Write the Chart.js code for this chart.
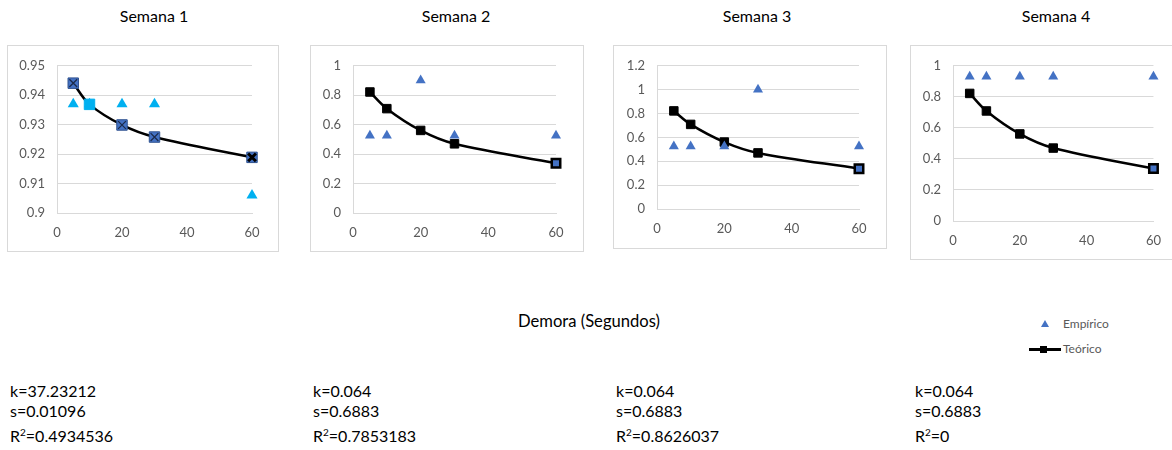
<!DOCTYPE html>
<html>
<head>
<meta charset="utf-8">
<script src="https://cdn.jsdelivr.net/npm/chart.js@4.4.1/dist/chart.umd.min.js"></script>
<style>
  html, body { margin: 0; padding: 0; }
  body {
    width: 1172px; height: 450px; position: relative; overflow: hidden;
    background: #fff; font-family: Lato, "Noto Sans", sans-serif; color: #000;
  }
  .box { position: absolute; border: 1px solid #d9d9d9; background: #fff; }
  .box canvas { display: block; }
  .title { position: absolute; top: 6px; width: 200px; margin-left: -100px; text-align: center; font-size: 16px; }
  .axis-title { position: absolute; left: 589px; top: 311px; width: 300px; margin-left: -150px; text-align: center; font-size: 16.6px; }
  .legend { position: absolute; font-size: 12px; color: #595959; }
  .legend .item { position: absolute; white-space: nowrap; }
  .legend .tri { position: absolute; width: 0; height: 0; border-left: 4.5px solid transparent; border-right: 4.5px solid transparent; border-bottom: 7px solid #4472C4; }
  .legend .ln { position: absolute; height: 2.5px; background: #000; }
  .legend .sq { position: absolute; width: 7px; height: 7px; background: #000; }
  .params { position: absolute; top: 381px; font-size: 16px; line-height: 20px; }
  .params div { position: absolute; left: 0; white-space: nowrap; }
  .params sup { font-size: 10px; vertical-align: 6px; line-height: 0; }
</style>
</head>
<body>

<div id="titles"></div>

<div class="box" style="left:7px;top:45px;"><canvas id="c1" width="270" height="205"></canvas></div>
<div class="box" style="left:310px;top:45px;"><canvas id="c2" width="272" height="205"></canvas></div>
<div class="box" style="left:613px;top:45px;"><canvas id="c3" width="272" height="202"></canvas></div>
<div class="box" style="left:910px;top:45px;"><canvas id="c4" width="262" height="213"></canvas></div>

<div class="axis-title" id="xTitle"></div>

<div class="legend">
  <div class="tri" style="left:1041px;top:320px;"></div>
  <div class="item" style="left:1063px;top:316px;" id="legEmp"></div>
  <div class="ln" style="left:1029px;top:348px;width:32px;"></div>
  <div class="sq" style="left:1040px;top:345.5px;"></div>
  <div class="item" style="left:1063px;top:341px;" id="legTeo"></div>
</div>

<div id="paramBlocks"></div>

<script>
// Delay (seconds) on the x axis, shared by every week
const delays = [5, 10, 20, 30, 60];

// Observed proportions per week
const empirical1 = [0.937, 0.937, 0.937, 0.937, 0.906];
const empirical2 = [0.526, 0.526, 0.902, 0.526, 0.526];
const empirical3 = [0.526, 0.526, 0.526, 1.0, 0.526];
const empirical4 = [0.93, 0.93, 0.93, 0.93, 0.93];

// Model curves per week
const theoretical1 = [0.9441, 0.9369, 0.9299, 0.9258, 0.9189];
const theoretical2 = [0.822, 0.709, 0.561, 0.470, 0.338];
const theoretical3 = [0.822, 0.709, 0.561, 0.470, 0.338];
const theoretical4 = [0.822, 0.709, 0.561, 0.470, 0.338];

// Text
const weekTitles = ['Semana 1', 'Semana 2', 'Semana 3', 'Semana 4'];
const seriesNames = ['Empírico', 'Teórico'];
const xAxisTitle = 'Demora (Segundos)';
const paramK = ['37.23212', '0.064', '0.064', '0.064'];
const paramS = ['0.01096', '0.6883', '0.6883', '0.6883'];
const paramR2 = ['0.4934536', '0.7853183', '0.8626037', '0'];

// Y scale ranges per week
const yMin = [0.9, 0, 0, 0];
const yMax = [0.95, 1, 1.2, 1];
const yStep = [0.01, 0.2, 0.2, 0.2];
const xMin = 0, xMax = 60, xStep = 20;

// ---- page text ----
const titleCenters = [154, 456, 757, 1056];
document.getElementById('titles').innerHTML = weekTitles.map((t, i) =>
  `<div class="title" style="left:${titleCenters[i]}px">${t}</div>`).join('');
document.getElementById('xTitle').textContent = xAxisTitle;
document.getElementById('legEmp').textContent = seriesNames[0];
document.getElementById('legTeo').textContent = seriesNames[1];

const paramLefts = [10, 313, 616, 915];
document.getElementById('paramBlocks').innerHTML = paramK.map((k, i) =>
  `<div class="params" style="left:${paramLefts[i]}px">
     <div style="top:0">k=${k}</div>
     <div style="top:20px">s=${paramS[i]}</div>
     <div style="top:45px">R<sup>2</sup>=${paramR2[i]}</div>
   </div>`).join('');

// ---- charts ----
const toPoints = arr => delays.map((x, i) => ({ x: x, y: arr[i] }));
const BLUE = '#4472C4';
const LIGHT_BLUE = '#00B0F0';
const GRID = '#d9d9d9';
const TICK = '#595959';
// plain number labels without padded zeros (0.9, 1, 1.2)
const plainTick = v => String(parseFloat(Number(v).toFixed(4)));

function makeChart(id, idx, datasets, plot) {
  const ctx = document.getElementById(id);
  return new Chart(ctx, {
    type: 'scatter',
    data: { datasets: datasets },
    options: {
      responsive: false,
      animation: false,
      events: [],
      layout: { padding: { top: plot.top, right: plot.right, left: 0, bottom: 0 } },
      plugins: { legend: { display: false }, tooltip: { enabled: false }, title: { display: false } },
      scales: {
        x: {
          type: 'linear', min: xMin, max: xMax,
          ticks: { stepSize: xStep, color: TICK, padding: 12, font: { family: 'Lato', size: 13 }, callback: plainTick },
          grid: { display: false, drawTicks: false },
          border: { display: true, color: GRID, width: 1 },
          afterFit: s => { s.height = plot.xh; }
        },
        y: {
          type: 'linear', min: yMin[idx], max: yMax[idx],
          ticks: { stepSize: yStep[idx], color: TICK, padding: 12, font: { family: 'Lato', size: 13 }, callback: plainTick },
          grid: { color: GRID, drawTicks: false, lineWidth: 1 },
          border: { display: true, color: GRID, width: 1 },
          afterFit: s => { s.width = plot.yw; }
        }
      }
    }
  });
}

function empiricalSet(arr, color, radius) {
  return {
    label: seriesNames[0], data: toPoints(arr), showLine: false,
    pointStyle: 'triangle', pointRadius: radius, pointBackgroundColor: color,
    pointBorderColor: color, pointBorderWidth: 0, clip: false
  };
}

function theoreticalSet(arr, fills) {
  return {
    label: seriesNames[1], data: toPoints(arr), showLine: true,
    borderColor: '#000', borderWidth: 2.5, tension: 0.35,
    pointStyle: 'rect', pointRadius: 6, pointBackgroundColor: fills,
    pointBorderColor: '#000', pointBorderWidth: [1, 1, 1, 1, 2.5], clip: false
  };
}

// Week 1: blue squares crossed with an X
makeChart('c1', 0, [
  empiricalSet(empirical1, LIGHT_BLUE, 6.4),
  {
    label: seriesNames[1], data: toPoints(theoretical1), showLine: false,
    pointStyle: 'crossRot', pointRadius: 5.5,
    pointBorderColor: ['#1b2a4a', LIGHT_BLUE, '#1b2a4a', '#1b2a4a', '#000'],
    pointBorderWidth: [1.3, 1, 1.3, 1.3, 3], clip: false
  },
  {
    label: seriesNames[1], data: toPoints(theoretical1), showLine: true,
    borderColor: '#000', borderWidth: 2.5, tension: 0.35,
    pointStyle: 'rect', pointRadius: 7.4,
    pointBackgroundColor: [BLUE, LIGHT_BLUE, BLUE, BLUE, BLUE],
    pointBorderColor: ['#2f528f', LIGHT_BLUE, '#2f528f', '#2f528f', '#2f528f'],
    pointBorderWidth: 1, clip: false
  }
], { top: 17, right: 26, yw: 49, xh: 38 });

const blackFills = ['#000', '#000', '#000', '#000', BLUE];

makeChart('c2', 1, [
  empiricalSet(empirical2, BLUE, 5.8),
  theoreticalSet(theoretical2, blackFills)
], { top: 17, right: 27, yw: 42, xh: 38 });

makeChart('c3', 2, [
  empiricalSet(empirical3, BLUE, 5.8),
  theoreticalSet(theoretical3, blackFills)
], { top: 17, right: 27, yw: 43, xh: 39 });

makeChart('c4', 3, [
  empiricalSet(empirical4, BLUE, 5.8),
  theoreticalSet(theoretical4, blackFills)
], { top: 17, right: 18, yw: 42, xh: 38 });
</script>
</body>
</html>
